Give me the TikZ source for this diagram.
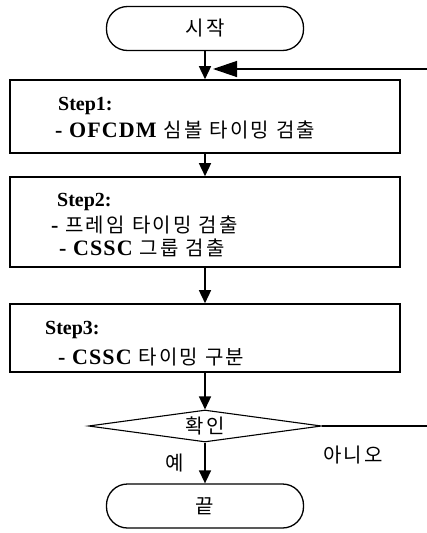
\documentclass[tikz,border=0pt]{standalone}
\usepackage{fontspec}
\setmainfont{Liberation Serif}
\newfontfamily\itemfont[LetterSpace=5]{Liberation Serif}
\newfontfamily\kr[LetterSpace=12]{Noto Sans CJK KR}
\usetikzlibrary{arrows.meta,shapes.geometric}
\tikzset{
  flow/.style={line width=1.5pt,-{Triangle[length=13pt,width=12pt]}},
  stepbox/.style={draw,line width=1.6pt,minimum width=390pt,inner sep=0pt},
  term/.style={draw,line width=1.3pt,rounded corners=21pt,minimum width=197pt,minimum height=44pt,inner sep=0pt},
  label/.style={anchor=west,inner sep=0pt,font=\fontsize{20}{22}\selectfont\bfseries},
  item/.style={anchor=west,inner sep=0pt,font=\fontsize{22}{24}\selectfont\itemfont\bfseries},
  krtxt/.style={inner sep=0pt,font=\fontsize{20}{22}\selectfont\kr},
}
\newcommand\ko[1]{{\mdseries\fontsize{20}{22}\selectfont\kr #1}}
\begin{document}
\begin{tikzpicture}[x=1pt,y=-1pt]
\useasboundingbox (0,0) rectangle (427,533);
\clip (0,0) rectangle (427,533);

% terminals
\node[term] (start) at (205,28.5) {};
\node[krtxt] at (start) {시작};
\node[term] (end) at (205,506) {};
\node[krtxt] at (end) {끝};

% process boxes
\node[stepbox,minimum height=73pt] (s1) at (205,116.5) {};
\node[stepbox,minimum height=90pt] (s2) at (205,222) {};
\node[stepbox,minimum height=68pt] (s3) at (205,338) {};

\node[label] (t1a) at (58,106) {Step1:};
\node[item] (t1b) at (55,130) {- OFCDM \ko{심볼 타이밍 검출}};

\node[label] (t2a) at (57,202) {Step2:};
\node[item] (t2b) at (51,225) {- \ko{프레임 타이밍 검출}};
\node[item] (t2c) at (59,248) {- CSSC \ko{그룹 검출}};

\node[label] (t3a) at (45,330) {Step3:};
\node[item] (t3b) at (58,357) {- CSSC \ko{타이밍 구분}};

% decision
\node[draw,diamond,aspect=7,line width=1.1pt,minimum width=233pt,minimum height=32pt,inner sep=0pt] (chk) at (205,426) {};
\node[krtxt] at (chk) {확인};
\node[krtxt,anchor=west] (no) at (323,455) {아니오};
\node[krtxt] (yes) at (175,463) {예};

% loop-back point
\coordinate (join) at (205,69);
\coordinate (r1) at (440,426);
\coordinate (r2) at (440,69);

% connectors
\draw[flow] (start.south) -- (s1.north);
\draw[flow] (s1.south) -- (s2.north);
\draw[flow] (s2.south) -- (s3.north);
\draw[flow] (s3.south) -- (chk.north);
\draw[flow] (chk.south) -- (end.north);
\draw[line width=1.3pt,-{Triangle[length=24pt,width=16pt]}] (chk.east) -- (r1) -- (r2) -- ([xshift=8pt]join);
\end{tikzpicture}
\end{document}
